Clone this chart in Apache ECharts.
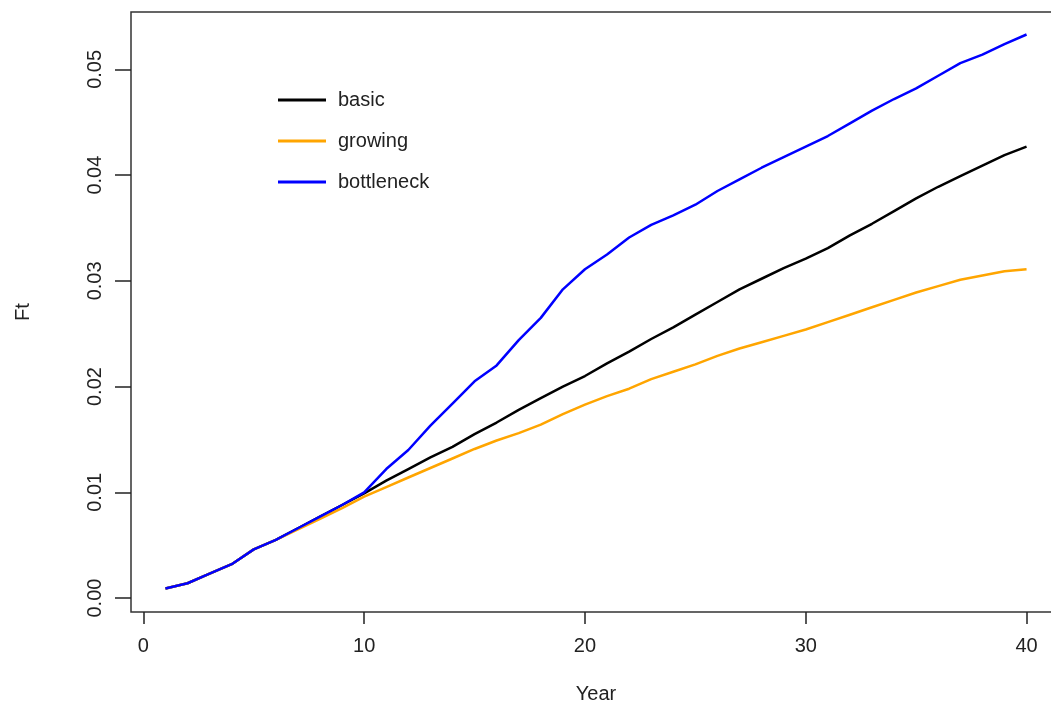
<!DOCTYPE html>
<html>
<head>
<meta charset="utf-8">
<script src="https://cdn.jsdelivr.net/npm/echarts@6/dist/echarts.min.js"></script>
<style>
html,body{margin:0;padding:0;background:#fff;}
#chart{width:1051px;height:704px;}
</style>
</head>
<body>
<div id="chart"></div>
<script>
var years = [1,2,3,4,5,6,7,8,9,10,11,12,13,14,15,16,17,18,19,20,21,22,23,24,25,26,27,28,29,30,31,32,33,34,35,36,37,38,39,40];
var basic = [0.0009,0.0014,0.0023,0.0032,0.0046,0.0055,0.0066,0.0077,0.0088,0.0099,
             0.0111,0.0122,0.0133,0.0143,0.0155,0.0166,0.0178,0.0189,0.0200,0.0210,
             0.0222,0.0233,0.0245,0.0256,0.0268,0.0280,0.0292,0.0302,0.0312,0.0321,
             0.0331,0.0343,0.0354,0.0366,0.0378,0.0389,0.0399,0.0409,0.0419,0.0427];
var growing = [0.0009,0.0014,0.0023,0.0032,0.0046,0.0055,0.0065,0.0075,0.0085,0.0096,
               0.0105,0.0114,0.0123,0.0132,0.0141,0.0149,0.0156,0.0164,0.0174,0.0183,
               0.0191,0.0198,0.0207,0.0214,0.0221,0.0229,0.0236,0.0242,0.0248,0.0254,
               0.0261,0.0268,0.0275,0.0282,0.0289,0.0295,0.0301,0.0305,0.0309,0.0311];
var bottleneck = [0.0009,0.0014,0.0023,0.0032,0.0046,0.0055,0.0066,0.0077,0.0088,0.0100,
                  0.0122,0.0140,0.0163,0.0184,0.0205,0.0220,0.0244,0.0265,0.0292,0.0311,
                  0.0325,0.0341,0.0353,0.0362,0.0372,0.0385,0.0396,0.0407,0.0417,0.0427,
                  0.0437,0.0449,0.0461,0.0472,0.0482,0.0494,0.0506,0.0514,0.0524,0.0533];
var xTicks = [0,10,20,30,40];
var yTicks = [0,0.01,0.02,0.03,0.04,0.05];
var yTickLabels = ['0.00','0.01','0.02','0.03','0.04','0.05'];
var seriesNames = ['basic','growing','bottleneck'];
var seriesColors = ['#000000','#FFA500','#0000FF'];

function pairs(ys){ return years.map(function(x,i){ return [x, ys[i]]; }); }
var seriesData = [basic, growing, bottleneck];

var font = 'Liberation Sans, Arial, sans-serif';
var chart = echarts.init(document.getElementById('chart'), null, {renderer:'canvas'});
chart.setOption({
  animation:false,
  backgroundColor:'#ffffff',
  grid:{left:131, top:12, width:930, height:600, show:true, borderColor:'#333333', borderWidth:1.5,
        containLabel:false, outerBoundsMode:'none'},
  legend:{
    orient:'vertical', left:278, top:90, padding:0,
    itemWidth:48, itemHeight:3, itemGap:21,
    icon:'rect',
    data:seriesNames,
    textStyle:{fontFamily:font, fontSize:20, color:'#222', lineHeight:20, padding:[0,0,0,7]}
  },
  xAxis:{
    type:'value', min:-0.56, max:41.56,
    name:'Year', nameLocation:'middle', nameGap:72,
    nameTextStyle:{fontFamily:font, fontSize:20, color:'#222'},
    axisLine:{show:false, onZero:false},
    splitLine:{show:false},
    axisTick:{show:true, inside:false, length:12, customValues:xTicks, lineStyle:{color:'#222', width:1.5}},
    axisLabel:{show:true, margin:24, customValues:xTicks, fontFamily:font, fontSize:20, color:'#222'}
  },
  yAxis:{
    type:'value', min:-0.00132, max:0.05543,
    name:'Ft', nameLocation:'middle', nameGap:98, nameRotate:90,
    nameTextStyle:{fontFamily:font, fontSize:20, color:'#222'},
    axisLine:{show:false, onZero:false},
    splitLine:{show:false},
    axisTick:{show:true, inside:false, length:16, customValues:yTicks, lineStyle:{color:'#222', width:1.5}},
    axisLabel:{show:true, rotate:90, margin:26, customValues:yTicks, fontFamily:font, fontSize:20, color:'#222',
      formatter:function(v){ var i = yTicks.findIndex(function(t){return Math.abs(t-v)<1e-9;}); return i>=0? yTickLabels[i] : ''; }}
  },
  series: seriesNames.map(function(n,i){
    return {name:n, type:'line', data:pairs(seriesData[i]), showSymbol:false, symbol:'none',
      smooth:false, z:2+i, lineStyle:{color:seriesColors[i], width:2.5}, itemStyle:{color:seriesColors[i]}};
  })
});
</script>
</body>
</html>
